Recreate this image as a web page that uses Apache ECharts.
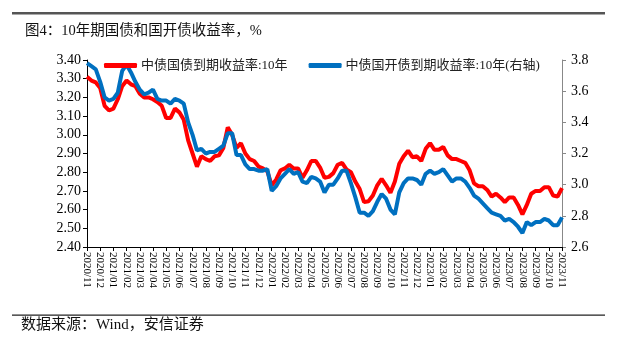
<!DOCTYPE html>
<html><head><meta charset="utf-8">
<script src="https://cdn.jsdelivr.net/npm/echarts@6/dist/echarts.min.js"></script>
<style>html,body{margin:0;padding:0;background:#fff}#c{width:617px;height:340px}</style>
</head><body><div id="c"></div>
<script>
// Month tick labels (x axis)
const tickLabels = ['2020/11','2020/12','2021/01','2021/02','2021/03','2021/04','2021/05','2021/06','2021/07','2021/08','2021/09','2021/10','2021/11','2021/12','2022/01','2022/02','2022/03','2022/04','2022/05','2022/06','2022/07','2022/08','2022/09','2022/10','2022/11','2022/12','2023/01','2023/02','2023/03','2023/04','2023/05','2023/06','2023/07','2023/08','2023/09','2023/10','2023/11'];
// three readings per month (around the 1st, 11th, 21st)
const pointsPerMonth = 3;
// 中债国债到期收益率:10年 (left axis, %)
const cgbYield = [3.31,3.29,3.28,3.25,3.155,3.13,3.14,3.19,3.26,3.29,3.27,3.26,3.22,3.20,3.20,3.19,3.175,3.155,3.09,3.09,3.14,3.12,3.08,2.97,2.90,2.83,2.885,2.87,2.86,2.885,2.89,2.93,3.04,3.00,2.93,2.955,2.90,2.87,2.86,2.83,2.82,2.805,2.73,2.76,2.81,2.82,2.84,2.82,2.82,2.77,2.81,2.86,2.86,2.825,2.77,2.775,2.795,2.84,2.85,2.815,2.80,2.75,2.71,2.64,2.645,2.675,2.73,2.765,2.73,2.69,2.75,2.845,2.885,2.915,2.88,2.885,2.86,2.925,2.955,2.92,2.92,2.935,2.89,2.87,2.87,2.86,2.85,2.81,2.74,2.725,2.725,2.705,2.67,2.685,2.665,2.64,2.665,2.665,2.625,2.575,2.625,2.685,2.70,2.70,2.72,2.72,2.675,2.67,2.715];
// 中债国开债到期收益率:10年 (right axis, %)
const cdbYield = [3.78,3.76,3.74,3.66,3.56,3.54,3.55,3.59,3.73,3.77,3.72,3.66,3.61,3.58,3.59,3.61,3.55,3.54,3.54,3.52,3.55,3.54,3.52,3.40,3.32,3.22,3.23,3.20,3.21,3.21,3.23,3.25,3.33,3.33,3.19,3.19,3.13,3.10,3.10,3.09,3.09,3.10,2.96,2.99,3.04,3.07,3.10,3.07,3.08,3.02,3.01,3.05,3.04,3.02,2.95,3.00,3.00,3.04,3.09,3.09,3.01,2.92,2.82,2.82,2.80,2.83,2.89,2.94,2.91,2.84,2.81,2.95,3.01,3.04,3.04,3.03,3.00,3.07,3.09,3.07,3.08,3.10,3.06,3.02,3.04,3.04,3.02,2.98,2.93,2.91,2.88,2.85,2.82,2.81,2.80,2.77,2.78,2.76,2.73,2.69,2.76,2.74,2.76,2.76,2.78,2.77,2.74,2.74,2.79];

const cnFont = "'Liberation Serif','Noto Sans CJK SC',serif";
const numFont = "'Liberation Serif','Times New Roman',serif";

const chart = echarts.init(document.getElementById('c'), null, {renderer:'canvas'});
chart.setOption({
  animation:false,
  backgroundColor:'#fff',
  title:{text:'图4：10年期国债和国开债收益率，%', left:20, top:19,
    textStyle:{fontSize:14.5, fontWeight:'normal', color:'#111', fontFamily:cnFont}},
  graphic:[
    {type:'rect', shape:{x:12,y:12,width:593,height:2.5}, style:{fill:'#555'}},
    {type:'rect', shape:{x:12,y:314.5,width:593,height:1.2}, style:{fill:'#222'}},
    {type:'text', left:21, top:318, style:{text:'数据来源：Wind，安信证券', fontSize:15, fill:'#111', fontFamily:cnFont}}
  ],
  legend:{left:99, top:54, itemWidth:33, itemHeight:5, itemGap:21, icon:'roundRect',
    textStyle:{fontSize:13, color:'#222', fontFamily:cnFont, padding:[0,0,0,-1]},
    data:['中债国债到期收益率:10年','中债国开债到期收益率:10年(右轴)']},
  grid:{left:87, right:55, top:60, bottom:93},
  xAxis:{type:'value', min:0, max:tickLabels.length-1, interval:1,
    axisLine:{show:true, onZero:false, lineStyle:{color:'#000', width:1}},
    axisTick:{show:true, length:4, lineStyle:{color:'#000'}},
    splitLine:{show:false},
    axisLabel:{rotate:-90, margin:5, fontSize:11, color:'#000', fontFamily:numFont,
      formatter:v=>tickLabels[Math.round(v)] || ''}},
  yAxis:[
    {type:'value', min:2.4, max:3.4, interval:0.1, position:'left',
     axisLine:{show:true, lineStyle:{color:'#000'}},
     axisTick:{show:true, length:4, lineStyle:{color:'#000'}},
     splitLine:{show:false},
     axisLabel:{fontSize:14, color:'#000', fontFamily:numFont, margin:6, formatter:v=>v.toFixed(2)}},
    {type:'value', min:2.6, max:3.8, interval:0.2, position:'right',
     axisLine:{show:true, lineStyle:{color:'#888'}},
     axisTick:{show:true, length:4, lineStyle:{color:'#888'}},
     splitLine:{show:false},
     axisLabel:{fontSize:14, color:'#000', fontFamily:numFont, margin:9, formatter:v=>v.toFixed(1)}}
  ],
  series:[
    {name:'中债国债到期收益率:10年', type:'line', yAxisIndex:0, showSymbol:false,
     color:'#FF0000', lineStyle:{width:4, color:'#FF0000'},
     data:cgbYield.map((v,i)=>[i/pointsPerMonth, v])},
    {name:'中债国开债到期收益率:10年(右轴)', type:'line', yAxisIndex:1, showSymbol:false,
     color:'#0070C0', lineStyle:{width:4, color:'#0070C0'},
     data:cdbYield.map((v,i)=>[i/pointsPerMonth, v])}
  ]
});
</script></body></html>
